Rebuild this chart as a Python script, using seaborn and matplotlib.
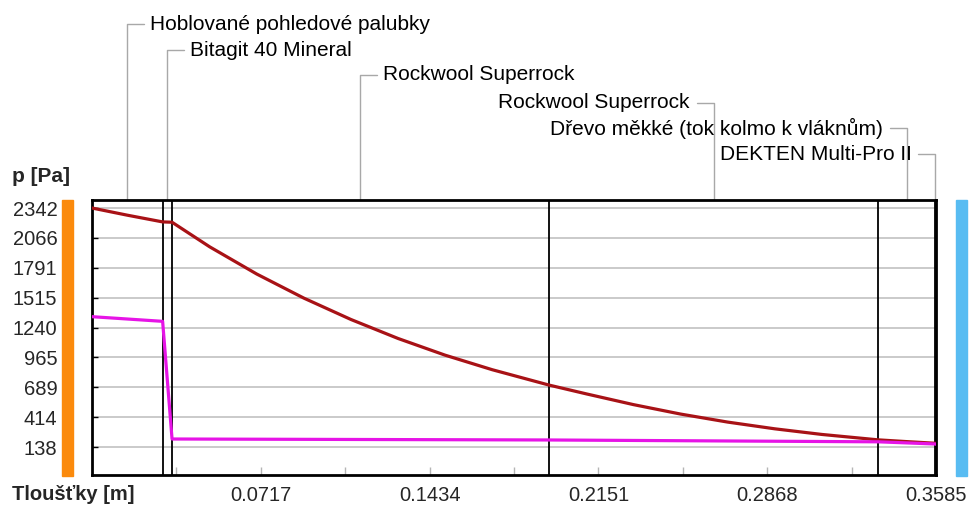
import matplotlib
matplotlib.use("Agg")
import matplotlib.pyplot as plt
from matplotlib.patches import Rectangle
from matplotlib import transforms
import pandas as pd
import seaborn as sns

# Layers of the roof build-up (interior -> exterior) and their thicknesses [m]
layer_names = [
    "Hoblované pohledové palubky",
    "Bitagit 40 Mineral",
    "Rockwool Superrock",
    "Rockwool Superrock",
    "Dřevo měkké (tok kolmo k vláknům)",
    "DEKTEN Multi-Pro II",
]
layer_thickness = [0.030, 0.004, 0.160, 0.140, 0.024, 0.0005]

# Saturated water vapour pressure through the construction
psat_x = [0.0, 0.015, 0.030, 0.034, 0.050, 0.070, 0.090, 0.110, 0.130, 0.150,
          0.170, 0.194, 0.210, 0.230, 0.250, 0.270, 0.290, 0.310, 0.334,
          0.346, 0.358, 0.3585]
psat_p = [2342, 2276, 2214, 2211, 1984, 1733, 1511, 1314, 1139, 985,
          851, 710, 628, 529, 442, 368, 306, 254, 204,
          188, 173, 172]

# Partial water vapour pressure through the construction
pvap_x = [0.0, 0.030, 0.034, 0.194, 0.334, 0.358, 0.3585]
pvap_p = [1340, 1297, 212, 203, 186, 166, 164]

# Axis ticks
y_ticks = [138, 413.5, 689, 964.5, 1240, 1515.5, 1791, 2066.5, 2342]
y_tick_labels = ["138", "414", "689", "965", "1240", "1515", "1791", "2066", "2342"]
x_minor_step = 0.03585
x_ticks = [0.0717, 0.1434, 0.2151, 0.2868, 0.3585]
x_tick_labels = ["0.0717", "0.1434", "0.2151", "0.2868", "0.3585"]

sns.set_theme(style="white")
plt.rcParams["font.family"] = ["Liberation Sans", "DejaVu Sans"]

W, H = 971, 507
fig = plt.figure(figsize=(W / 100, H / 100), dpi=100)
ax_l, ax_r, ax_t, ax_b = 92, 936, 200, 475
ax = fig.add_axes([ax_l / W, 1 - ax_b / H, (ax_r - ax_l) / W, (ax_b - ax_t) / H])

df = pd.concat([
    pd.DataFrame({"x": psat_x, "p": psat_p, "series": "psat"}),
    pd.DataFrame({"x": pvap_x, "p": pvap_p, "series": "p"}),
], ignore_index=True)

# layer boundaries
edges = [0.0]
for t in layer_thickness:
    edges.append(edges[-1] + t)
for e in edges[1:-1]:
    ax.axvline(e, color="black", lw=1.3, zorder=2)

ax.set_xlim(0, 0.3585)
ax.set_ylim(-120, 2416)
ax.set_yticks(y_ticks)
ax.set_yticklabels(y_tick_labels)
ax.yaxis.grid(True, color="#c6c6c6", lw=1.3, zorder=0)
ax.set_axisbelow(True)

minor = [x_minor_step * i for i in range(1, 11) if i % 2 == 1]
ax.set_xticks(x_ticks)
ax.set_xticklabels(x_tick_labels)
ax.set_xticks(minor, minor=True)
ax.tick_params(axis="x", which="both", direction="in", length=6, width=1,
               color="#b5b5b5", pad=8, labelsize=14.5, bottom=True)
ax.tick_params(axis="y", direction="in", length=4, width=1, color="black",
               pad=25, labelsize=14.5, left=True)

sns.lineplot(data=df, x="x", y="p", hue="series",
             palette={"psat": "#a81216", "p": "#e614e6"},
             hue_order=["psat", "p"], estimator=None, sort=False,
             legend=False, linewidth=2.3, ax=ax, zorder=3)
ax.set_xlabel("")
ax.set_ylabel("")

for s in ax.spines.values():
    s.set_color("black")
    s.set_linewidth(2.0)
    s.set_visible(True)

# layer labels with leader lines above the plot
trans = transforms.blended_transform_factory(ax.transData, fig.transFigure)
px = 0.3585 / (ax_r - ax_l)
label_y = [24, 50, 75, 103, 128, 154]
for i, (name, yl) in enumerate(zip(layer_names, label_y)):
    mid = (edges[i] + edges[i + 1]) / 2
    yf = 1 - yl / H
    y0 = 1 - ax_t / H
    if i < 3:
        ax.plot([mid, mid, mid + 17 * px], [y0, yf, yf], color="#a8a8a8", lw=1,
                transform=trans, clip_on=False)
        fig.text(mid + 23 * px, yf, name, transform=trans, ha="left",
                 va="center", fontsize=15, color="black")
    else:
        ax.plot([mid, mid, mid - 17 * px], [y0, yf, yf], color="#a8a8a8", lw=1,
                transform=trans, clip_on=False)
        fig.text(mid - 24 * px, yf, name, transform=trans, ha="right",
                 va="center", fontsize=15, color="black")

# boundary condition bars (interior / exterior)
fig.patches.append(Rectangle((62 / W, 1 - 476 / H), 11 / W, 276 / H,
                             transform=fig.transFigure, color="#fb8a0c"))
fig.patches.append(Rectangle((956 / W, 1 - 476 / H), 11 / W, 276 / H,
                             transform=fig.transFigure, color="#58bcf2"))

fig.text(12 / W, 1 - 177 / H, "p [Pa]", ha="left", va="center",
         fontsize=15, fontweight="bold")
fig.text(12 / W, 1 - 495 / H, "Tloušťky [m]", ha="left", va="center",
         fontsize=14.5, fontweight="bold")

fig.savefig("out.png", dpi=100)
